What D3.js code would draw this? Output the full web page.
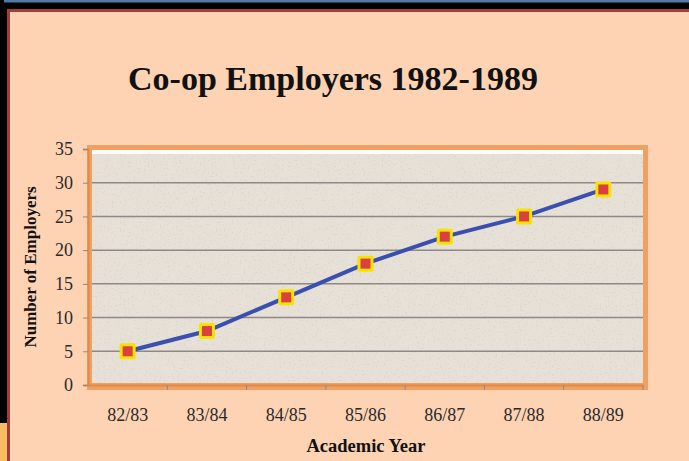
<!DOCTYPE html>
<html>
<head>
<meta charset="utf-8">
<script src="https://cdn.jsdelivr.net/npm/d3@7"></script>
<style>
  html, body { margin: 0; padding: 0; background: #000; }
  svg { display: block; }
  .tick text { font-family: "Liberation Serif", serif; fill: #2a2a2a; }
</style>
</head>
<body>
<svg id="chart" width="689" height="461"></svg>
<script>
const years = ['82/83', '83/84', '84/85', '85/86', '86/87', '87/88', '88/89']
const employers = [5, 8, 13, 18, 22, 25, 29]
const yTicks = [0, 5, 10, 15, 20, 25, 30, 35]

const W = 689, H = 461
const plot = { left: 88, right: 643, top: 149, bottom: 385 }

const svg = d3.select('#chart')

// slide background
svg.append('rect').attr('x', 0).attr('y', 0).attr('width', W).attr('height', H).attr('fill', '#000')
svg.append('rect').attr('x', 4).attr('y', 0).attr('width', W - 4).attr('height', 2.5).attr('fill', '#4d7aa6')
svg.append('rect').attr('x', 0).attr('y', 423).attr('width', 7).attr('height', H - 423).attr('fill', '#f8bd62')
svg.append('rect').attr('x', 7).attr('y', 9).attr('width', W - 7).attr('height', H - 9).attr('fill', '#a63c3a')
svg.append('rect').attr('x', 10).attr('y', 12).attr('width', W - 10).attr('height', H - 12).attr('fill', '#fdd3b4')

// texture filter: light stone with sparse specks
const defs = svg.append('defs')
const f = defs.append('filter').attr('id', 'grain').attr('x', 0).attr('y', 0).attr('width', '100%').attr('height', '100%')
f.append('feTurbulence').attr('type', 'fractalNoise').attr('baseFrequency', 0.5).attr('numOctaves', 2).attr('seed', 7).attr('result', 'noise')
f.append('feColorMatrix').attr('in', 'noise').attr('type', 'matrix')
  .attr('values', '0 0 0 0 0.72  0 0 0 0 0.69  0 0 0 0 0.64  0 0 0 -9 3.5').attr('result', 'spots')
f.append('feComposite').attr('in', 'spots').attr('in2', 'SourceGraphic').attr('operator', 'in').attr('result', 'sp')
f.append('feMerge').call(m => { m.append('feMergeNode').attr('in', 'SourceGraphic'); m.append('feMergeNode').attr('in', 'sp') })

const x = d3.scaleBand().domain(years).range([plot.left, plot.right])
const y = d3.scaleLinear().domain([0, 35]).range([plot.bottom, plot.top])

// plot area frame
svg.append('rect')
  .attr('x', plot.left - 1).attr('y', plot.top - 4)
  .attr('width', plot.right - plot.left + 6).attr('height', plot.bottom - plot.top + 9)
  .attr('fill', '#f0a062')
svg.append('rect')
  .attr('x', plot.left + 4).attr('y', plot.top + 1)
  .attr('width', plot.right - plot.left - 4).attr('height', plot.bottom - plot.top - 3)
  .attr('fill', '#e6e0d6')
  .attr('filter', 'url(#grain)')
svg.append('rect')
  .attr('x', plot.left + 4).attr('y', plot.top + 1)
  .attr('width', plot.right - plot.left - 4).attr('height', 4)
  .attr('fill', '#ffffff').attr('opacity', 0.9)

// gridlines
svg.append('g')
  .selectAll('line')
  .data(yTicks.filter(d => d > 0 && d < 35))
  .join('line')
  .attr('x1', plot.left + 4).attr('x2', plot.right)
  .attr('y1', d => y(d)).attr('y2', d => y(d))
  .attr('stroke', '#8e8886').attr('stroke-width', 1.5)

// axes
const yAxis = svg.append('g')
  .attr('transform', `translate(${plot.left},0)`)
  .call(d3.axisLeft(y).tickValues(yTicks).tickSize(5).tickPadding(10))
yAxis.select('.domain').attr('stroke', '#e08a4a').attr('stroke-width', 2)
yAxis.selectAll('.tick line').attr('stroke', '#8e8886')
yAxis.selectAll('.tick text').attr('font-size', 18)

const xAxis = svg.append('g')
  .attr('transform', `translate(0,${plot.bottom})`)
  .call(d3.axisBottom(x).tickSize(0).tickPadding(23))
xAxis.select('.domain').attr('stroke', '#e08a4a').attr('stroke-width', 2)
xAxis.selectAll('.tick text').attr('font-size', 18)
xAxis.selectAll('.bnd')
  .data(years.slice(1).concat(['end']))
  .join('line')
  .attr('x1', (d, i) => plot.left + x.step() * (i + 1))
  .attr('x2', (d, i) => plot.left + x.step() * (i + 1))
  .attr('y1', 0).attr('y2', 5)
  .attr('stroke', '#8e8886')

// line
const line = d3.line()
  .x((d, i) => x(years[i]) + x.bandwidth() / 2)
  .y(d => y(d))
svg.append('path')
  .datum(employers)
  .attr('d', line)
  .attr('fill', 'none')
  .attr('stroke', '#3a4fae')
  .attr('stroke-width', 4)

// markers
const pts = svg.append('g')
  .selectAll('g')
  .data(employers)
  .join('g')
  .attr('transform', (d, i) => `translate(${x(years[i]) + x.bandwidth() / 2},${y(d)})`)
pts.append('rect').attr('x', -8).attr('y', -8).attr('width', 16).attr('height', 16).attr('rx', 2).attr('fill', '#f6e300')
pts.append('rect').attr('x', -5).attr('y', -5).attr('width', 10).attr('height', 10).attr('fill', '#d9403f')

// titles
svg.append('text')
  .text('Co-op Employers 1982-1989')
  .attr('x', 333).attr('y', 90)
  .attr('text-anchor', 'middle')
  .attr('font-family', '"Liberation Serif", serif')
  .attr('font-weight', 'bold').attr('font-size', 34)
  .attr('fill', '#111')

svg.append('text')
  .text('Academic Year')
  .attr('x', 366).attr('y', 452)
  .attr('text-anchor', 'middle')
  .attr('font-family', '"Liberation Serif", serif')
  .attr('font-weight', 'bold').attr('font-size', 18.5)
  .attr('fill', '#111')

svg.append('text')
  .text('Number of Employers')
  .attr('transform', 'translate(36,267) rotate(-90)')
  .attr('text-anchor', 'middle')
  .attr('font-family', '"Liberation Serif", serif')
  .attr('font-weight', 'bold').attr('font-size', 17)
  .attr('fill', '#111')
</script>
</body>
</html>
